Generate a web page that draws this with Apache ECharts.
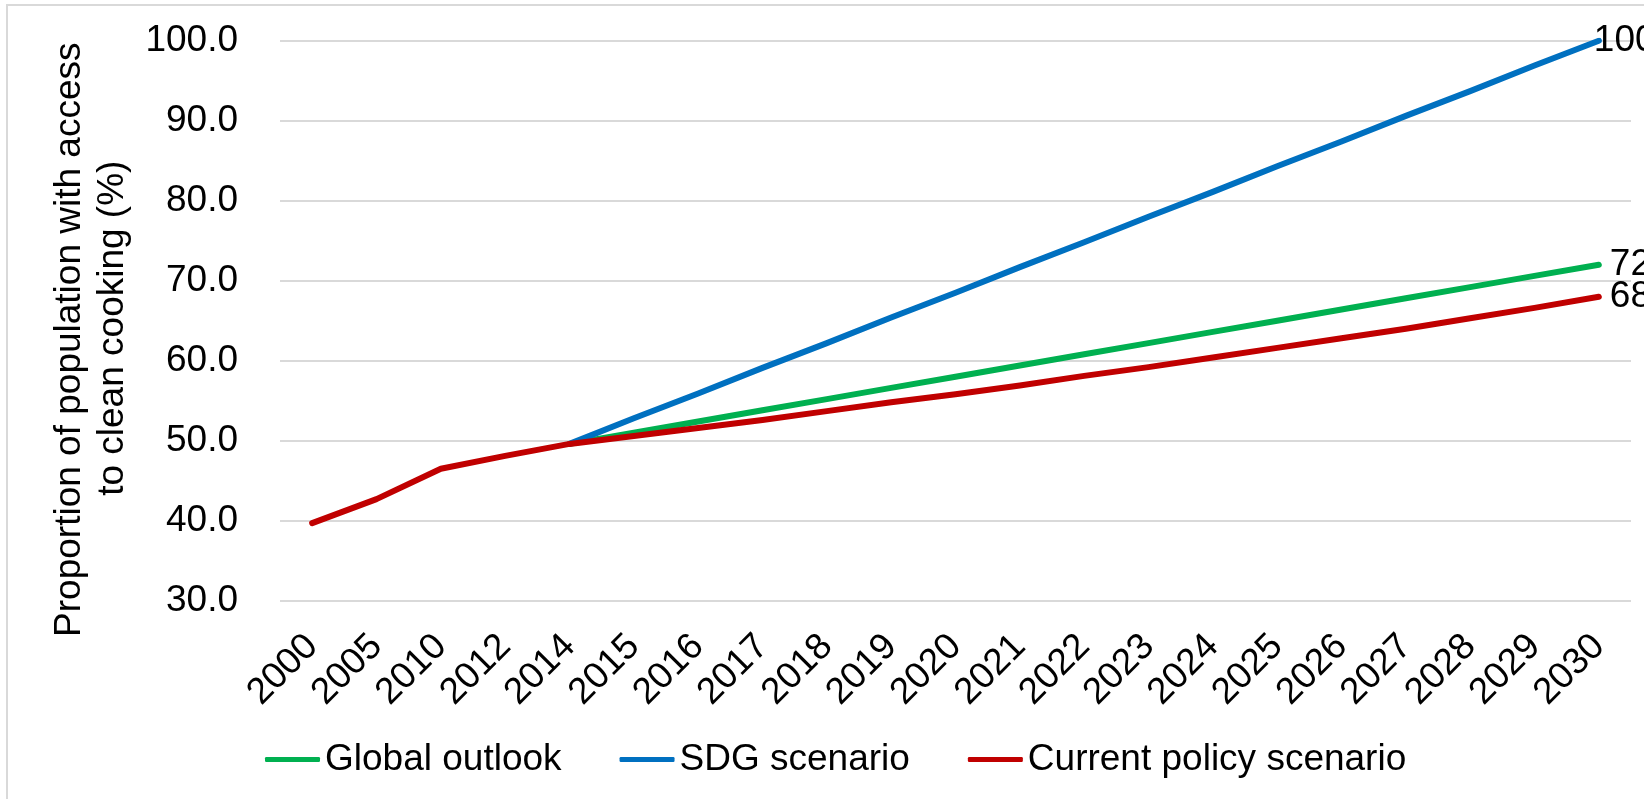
<!DOCTYPE html>
<html>
<head>
<meta charset="utf-8">
<title>Access to clean cooking</title>
<script src="https://cdn.jsdelivr.net/npm/echarts@6/dist/echarts.min.js"></script>
<style>
  html, body { margin: 0; padding: 0; background: #ffffff; }
  #chart { width: 1644px; height: 799px; }
</style>
</head>
<body>
<div id="chart"></div>
<script>
// Years on the category axis (historical points, then yearly projections)
const years = ['2000', '2005', '2010', '2012', '2014', '2015', '2016', '2017', '2018', '2019',
  '2020', '2021', '2022', '2023', '2024', '2025', '2026', '2027', '2028', '2029', '2030'];

// Share of population with access to clean cooking (%)
const globalOutlook = [null, null, null, null, 49.6, 51.0, 52.4, 53.8, 55.2, 56.6,
  58.0, 59.4, 60.8, 62.2, 63.6, 65.0, 66.4, 67.8, 69.2, 70.6, 72.0];
const sdgScenario = [null, null, null, null, 49.6, 52.8, 55.9, 59.1, 62.2, 65.4,
  68.5, 71.7, 74.8, 78.0, 81.1, 84.3, 87.4, 90.6, 93.7, 96.9, 100.0];
const currentPolicy = [39.7, 42.7, 46.5, 48.1, 49.6, 50.6, 51.6, 52.6, 53.7, 54.8,
  55.8, 56.9, 58.1, 59.2, 60.4, 61.6, 62.8, 64.0, 65.3, 66.6, 68.0];

const seriesNames = ['Global outlook', 'SDG scenario', 'Current policy scenario'];
const seriesColors = ['#00B050', '#0070C0', '#C00000'];
const axisTitleLines = ['Proportion of population with access', 'to clean cooking (%)'];

const FONT = '"Liberation Sans", Arial, sans-serif';
const FONT_SIZE = 37;

function lineSeries(name, data, color, labelOffset) {
  return {
    name: name,
    type: 'line',
    data: data,
    symbol: 'none',
    connectNulls: false,
    color: color,
    lineStyle: { width: 6, color: color, cap: 'round', join: 'round' },
    endLabel: {
      show: true,
      distance: 11,
      offset: labelOffset,
      formatter: function (p) { return String(p.value); },
      color: '#000000',
      fontSize: FONT_SIZE,
      fontFamily: FONT
    },
    emphasis: { disabled: true }
  };
}

const titleLineStyle = { fontSize: FONT_SIZE, lineHeight: 43, color: '#000000', fontFamily: FONT };

const chart = echarts.init(document.getElementById('chart'), null, { renderer: 'canvas' });

chart.setOption({
  animation: false,
  backgroundColor: '#ffffff',
  textStyle: { fontFamily: FONT },
  graphic: [{
    type: 'rect',
    shape: { x: 7, y: 5, width: 1700, height: 900 },
    style: { fill: 'none', stroke: '#d9d9d9', lineWidth: 2 },
    silent: true,
    z: -10
  }],
  grid: {
    left: 280,
    right: 13,
    top: 40.7,
    bottom: 198.3,
    containLabel: false,
    outerBoundsMode: 'none'
  },
  legend: {
    data: seriesNames,
    left: 265,
    top: 741,
    padding: 0,
    itemGap: 58,
    itemWidth: 55,
    itemHeight: 5,
    icon: 'roundRect',
    textStyle: { fontSize: FONT_SIZE, color: '#000000', fontFamily: FONT }
  },
  xAxis: {
    type: 'category',
    data: years,
    boundaryGap: true,
    axisLine: { show: false },
    axisTick: { show: false },
    axisLabel: {
      interval: 0,
      rotate: 45,
      margin: 40,
      fontSize: FONT_SIZE,
      color: '#000000',
      fontFamily: FONT
    },
    splitLine: { show: false }
  },
  yAxis: {
    type: 'value',
    min: 30,
    max: 100,
    interval: 10,
    name: '{a|' + axisTitleLines[0] + '}\n{b|' + axisTitleLines[1] + '}',
    nameLocation: 'middle',
    nameRotate: 90,
    nameGap: 136,
    nameTextStyle: {
      fontSize: FONT_SIZE,
      lineHeight: 43,
      color: '#000000',
      fontFamily: FONT,
      align: 'center',
      padding: [0, 15, 0, 0],
      rich: {
        a: Object.assign({ padding: [0, 23, 0, 0] }, titleLineStyle),
        b: Object.assign({}, titleLineStyle)
      }
    },
    axisLine: { show: false },
    axisTick: { show: false },
    axisLabel: {
      margin: 42,
      fontSize: FONT_SIZE,
      color: '#000000',
      fontFamily: FONT,
      formatter: function (v) { return v.toFixed(1); }
    },
    splitLine: { lineStyle: { color: '#d9d9d9', width: 2 } }
  },
  series: [
    lineSeries(seriesNames[0], globalOutlook, seriesColors[0], [0, 0]),
    lineSeries(seriesNames[1], sdgScenario, seriesColors[1], [-16, 0]),
    lineSeries(seriesNames[2], currentPolicy, seriesColors[2], [0, 0])
  ]
});
</script>
</body>
</html>
